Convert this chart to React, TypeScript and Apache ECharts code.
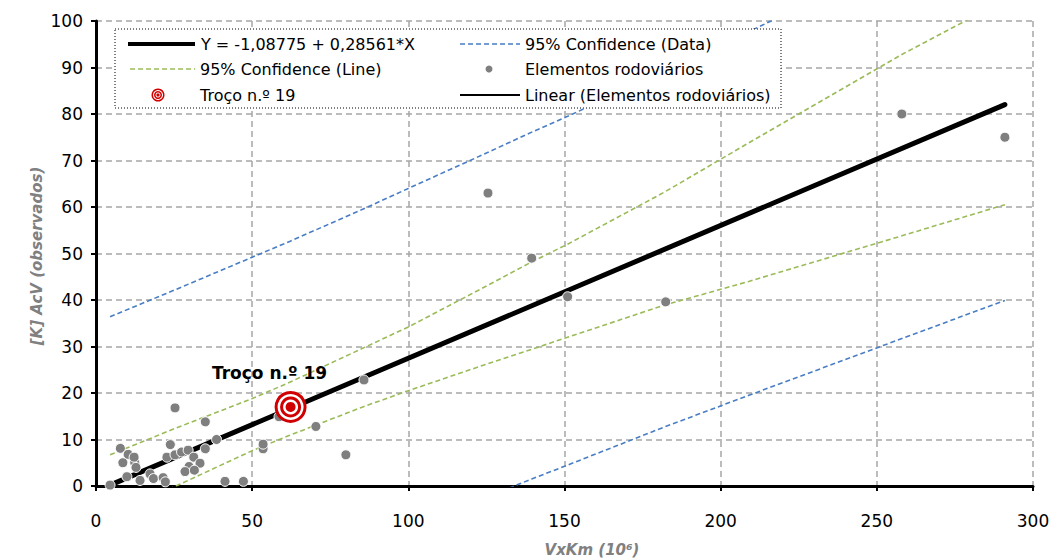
import React, { useEffect, useRef } from "react";
import * as echarts from "echarts";

// Regression coefficients shown in the legend
const intercept = -1.08775;
const slope = 0.28561;
const regX = [4.5, 291];

// Observed points: [VxKm, AcV]
const elementos: number[][] = [
  [4.5, 0.2], [7.8, 8.1], [10.3, 6.8], [8.6, 5.0], [12.4, 5.0], [12.8, 4.0], [12.2, 6.2],
  [9.9, 2.0], [14.1, 1.2], [17.3, 2.6], [18.4, 1.6], [21.5, 1.8], [22.2, 0.9], [23.8, 8.9],
  [25.3, 16.8], [22.7, 6.2], [25.3, 6.7], [27.4, 7.3], [29.5, 7.7], [31.3, 6.2], [33.3, 4.9],
  [29.8, 4.2], [28.5, 3.1], [31.5, 3.4], [35.0, 8.0], [35.0, 13.8], [38.6, 10.0], [41.3, 1.0],
  [47.2, 1.0], [53.5, 8.0], [53.5, 9.0], [58.6, 14.9], [70.4, 12.8], [80.0, 6.7], [85.8, 22.8],
  [125.5, 63.0], [139.5, 49.0], [151.0, 40.7], [182.4, 39.6], [258.0, 80.0], [291.0, 75.0],
];

// Troço n.º 19
const troco: number[][] = [[62.3, 17.0]];

// Confidence bands
const bandX = [4.5, 25, 50, 62, 85, 100, 125, 139.5, 151, 182, 209, 258, 291];
const lineUpper = [6.7, 12.3, 18.8, 22.3, 29.5, 34.2, 43.0, 48.2, 52.0, 63.2, 73.8, 92.8, 104.5];
const lineLower = [-6.3, -0.2, 7.6, 10.9, 16.9, 20.5, 26.2, 29.4, 32.0, 38.9, 44.0, 53.8, 60.5];
const dataUpper = [36.4, 42.1, 49.2, 52.6, 59.4, 64.0, 71.6, 76.1, 79.5, 89.1, 97.7, 113.5, 124.1];
const dataLower = [-36.0, -29.9, -22.8, -19.4, -13.0, -9.0, -2.4, 1.5, 4.5, 12.7, 19.5, 31.7, 39.9];

const xTicks = { min: 0, max: 300, interval: 50 };
const yTicks = { min: 0, max: 100, interval: 10 };

const FONT = "DejaVu Sans";
const BLUE = "#4A7EC4";
const GREEN = "#9BBB59";
const GRAY = "#7F7F7F";
const RED = "#D10000";

const zip = (xs: number[], ys: number[]) => xs.map((x, i) => [x, ys[i]]);

export default function App() {
  const ref = useRef<HTMLDivElement>(null);
  useEffect(() => {
    if (!ref.current) return;
    const chart = echarts.init(ref.current, null, { renderer: "svg" });
    const regData = regX.map((x) => [x, intercept + slope * x]);
    const bandStyle = (color: string) => ({
      type: "line",
      symbol: "none",
      silent: true,
      lineStyle: { color, width: 1.6, type: [5, 3] },
      z: 2,
    });
    const ring = (size: number, color: string, z: number) => ({
      type: "scatter",
      data: troco,
      symbol: "circle",
      symbolSize: size,
      itemStyle: { color, opacity: 1 },
      z,
      silent: true,
    });
    const legendTop = 29;
    const rowY = [44, 69, 95];
    const c1 = 128;
    const c2 = 460;
    const legendText = (x: number, y: number, text: string) => ({
      type: "text",
      x,
      y,
      z: 101,
      style: { text, fill: "#000", font: `16px '${FONT}'`, verticalAlign: "middle", align: "left" },
    });
    chart.setOption({
      animation: false,
      backgroundColor: "#fff",
      grid: { left: 96, top: 21, right: 20, bottom: 74, containLabel: false },
      xAxis: {
        type: "value",
        ...xTicks,
        axisLine: { show: true, lineStyle: { color: "#000", width: 3 } },
        axisTick: { show: true, length: 5, lineStyle: { color: "#000", width: 2 } },
        axisLabel: { color: "#000", fontFamily: FONT, fontSize: 17, margin: 26 },
        splitLine: { show: true, lineStyle: { color: "#A6A6A6", width: 1.5, type: [6, 4] } },
      },
      yAxis: {
        type: "value",
        ...yTicks,
        axisLine: { show: true, lineStyle: { color: "#000", width: 3 } },
        axisTick: { show: true, length: 5, lineStyle: { color: "#000", width: 2 } },
        axisLabel: { color: "#000", fontFamily: FONT, fontSize: 17, margin: 13 },
        splitLine: { show: true, lineStyle: { color: "#A6A6A6", width: 1.5, type: [6, 4] } },
      },
      series: [
        { ...bandStyle(BLUE), name: "95% Confidence (Data)", data: zip(bandX, dataUpper) },
        { ...bandStyle(BLUE), name: "95% Confidence (Data) lower", data: zip(bandX, dataLower) },
        { ...bandStyle(GREEN), name: "95% Confidence (Line)", data: zip(bandX, lineUpper) },
        { ...bandStyle(GREEN), name: "95% Confidence (Line) lower", data: zip(bandX, lineLower) },
        {
          type: "line",
          name: "Y = -1,08775 + 0,28561*X",
          data: regData,
          symbol: "none",
          lineStyle: { color: "#000", width: 5, cap: "round" },
          z: 3,
        },
        {
          type: "line",
          name: "Linear (Elementos rodoviários)",
          data: regData,
          symbol: "none",
          lineStyle: { color: "#000", width: 2 },
          z: 3,
        },
        {
          type: "scatter",
          name: "Elementos rodoviários",
          data: elementos,
          symbol: "circle",
          symbolSize: 10,
          itemStyle: { color: GRAY, borderColor: "#fff", borderWidth: 1, opacity: 1 },
          z: 4,
        },
        { ...ring(32, RED, 5), name: "Troço n.º 19" },
        ring(26, "#fff", 6),
        ring(21, RED, 7),
        ring(15, "#fff", 8),
        ring(10, RED, 9),
      ],
      graphic: [
        {
          type: "rect",
          z: 100,
          shape: { x: 115, y: legendTop, width: 666, height: 79 },
          style: { fill: "#fff", stroke: "#000", lineWidth: 1, lineDash: [1, 2] },
        },
        { type: "line", z: 101, shape: { x1: c1, y1: rowY[0], x2: c1 + 67, y2: rowY[0] }, style: { stroke: "#000", lineWidth: 4 } },
        legendText(201, rowY[0], "Y = -1,08775 + 0,28561*X"),
        { type: "line", z: 101, shape: { x1: c2, y1: rowY[0], x2: c2 + 60, y2: rowY[0] }, style: { stroke: BLUE, lineWidth: 1.5, lineDash: [5, 3] } },
        legendText(525, rowY[0], "95% Confidence (Data)"),
        { type: "line", z: 101, shape: { x1: c1 + 2, y1: rowY[1], x2: c1 + 67, y2: rowY[1] }, style: { stroke: GREEN, lineWidth: 1.5, lineDash: [5, 3] } },
        legendText(200, rowY[1], "95% Confidence (Line)"),
        { type: "circle", z: 101, shape: { cx: 489, cy: rowY[1], r: 3.5 }, style: { fill: GRAY } },
        legendText(525, rowY[1], "Elementos rodoviários"),
        { type: "circle", z: 101, shape: { cx: 158, cy: rowY[2], r: 6.5 }, style: { fill: RED } },
        { type: "circle", z: 102, shape: { cx: 158, cy: rowY[2], r: 5 }, style: { fill: "#fff" } },
        { type: "circle", z: 103, shape: { cx: 158, cy: rowY[2], r: 4 }, style: { fill: RED } },
        { type: "circle", z: 104, shape: { cx: 158, cy: rowY[2], r: 2.5 }, style: { fill: "#fff" } },
        { type: "circle", z: 105, shape: { cx: 158, cy: rowY[2], r: 1.6 }, style: { fill: RED } },
        legendText(200, rowY[2], "Troço n.º 19"),
        { type: "line", z: 101, shape: { x1: c2, y1: rowY[2], x2: c2 + 60, y2: rowY[2] }, style: { stroke: "#000", lineWidth: 2 } },
        legendText(525, rowY[2], "Linear (Elementos rodoviários)"),
        {
          type: "text",
          x: 212,
          y: 373,
          z: 50,
          style: { text: "Troço n.º 19", fill: "#000", font: `bold 17px '${FONT}'`, verticalAlign: "middle", align: "left" },
        },
        {
          type: "text",
          x: 592,
          y: 550,
          style: { text: "VxKm (10⁶)", fill: "#808080", font: `italic bold 15px '${FONT}'`, verticalAlign: "middle", align: "center" },
        },
        {
          type: "text",
          x: 37,
          y: 256,
          rotation: Math.PI / 2,
          style: { text: "[K] AcV (observados)", fill: "#808080", font: `italic bold 15px '${FONT}'`, verticalAlign: "middle", align: "center" },
        },
      ],
    });
    return () => chart.dispose();
  }, []);
  return <div ref={ref} style={{ width: 1053, height: 560, position: "absolute", left: 0, top: 0 }} />;
}
